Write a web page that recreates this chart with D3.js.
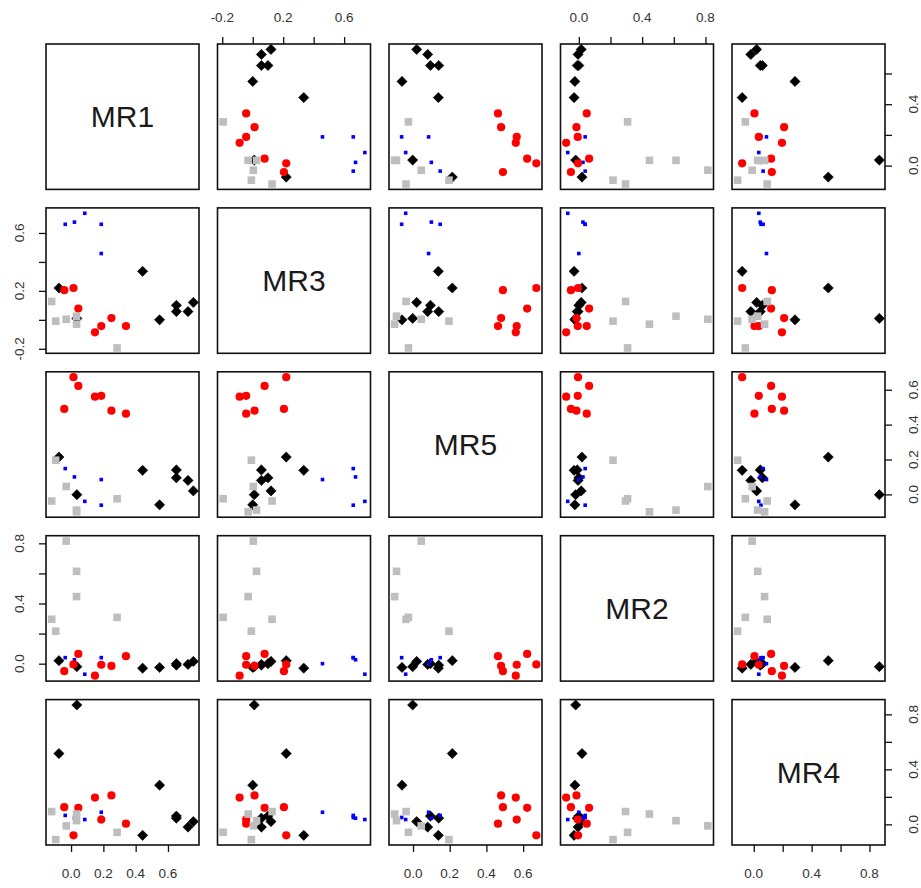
<!DOCTYPE html>
<html><head><meta charset="utf-8">
<script src="https://cdn.jsdelivr.net/npm/d3@7"></script>
<style>body{margin:0;background:#fff} svg{display:block}</style>
</head><body><svg id="c" width="921" height="888"></svg>
<script>
// ---- data ----
const vars = ["MR1", "MR3", "MR5", "MR2", "MR4"];
const group = ["k","k","k","k","k","k","k","k","b","b","b","b","b","r","r","r","r","r","r","r","g","g","g","g","g","g"];
const MR1 = [0.757,0.724,0.652,0.652,0.548,0.443,0.036,-0.075, 0.187,0.187,0.085,0.021,-0.036, 0.34,0.25,0.187,0.148,0.045,0.015,-0.042, 0.285,0.034,0.034,-0.03,-0.095,-0.12];
const MR3 = [0.12,0.057,0.057,0.10,0.0,0.335,0.01,0.22, 0.458,0.66,0.736,0.675,0.66, -0.043,0.012,-0.043,-0.086,0.078,0.22,0.205, -0.194,-0.03,0.025,0.004,-0.009,0.127];
const MR5 = [0.02,0.08,0.14,0.095,-0.06,0.138,-0.002,0.214, 0.085,-0.062,-0.04,0.10,0.148, 0.463,0.48,0.565,0.56,0.622,0.672,0.49, -0.025,-0.10,-0.09,0.045,0.196,-0.038];
const MR2 = [0.015,-0.005,-0.01,0.0,-0.025,-0.03,-0.02,0.02, 0.0,0.04,-0.07,0.026,0.04, 0.05,-0.015,-0.007,-0.08,0.065,-0.005,-0.05, 0.308,0.446,0.614,0.815,0.216,0.295];
const MR4 = [0.02,-0.02,0.045,0.06,0.285,-0.08,0.868,0.515, 0.088,0.05,0.035,0.045,0.065, 0.005,0.21,0.035,0.195,0.12,-0.08,0.125, -0.058,0.075,0.027,-0.011,-0.111,0.093];
const ticksMR1 = [0.0, 0.2, 0.4, 0.6];
const ticksMR3 = [-0.2, 0.0, 0.2, 0.4, 0.6];
const ticksMR5 = [0.0, 0.2, 0.4, 0.6];
const ticksMR2 = [0.0, 0.2, 0.4, 0.6, 0.8];
const ticksMR4 = [0.0, 0.2, 0.4, 0.6, 0.8];
// labels shown on the outer axes (R drops overlapping ones)
const labelsColMR1 = [0.0, 0.2, 0.4, 0.6];
const labelsColMR3 = [-0.2, 0.2, 0.6];
const labelsColMR5 = [0.0, 0.2, 0.4, 0.6];
const labelsColMR2 = [0.0, 0.4, 0.8];
const labelsColMR4 = [0.0, 0.4, 0.8];
const labelsRowMR1 = [0.0, 0.4];
const labelsRowMR3 = [-0.2, 0.2, 0.6];
const labelsRowMR5 = [0.0, 0.2, 0.4, 0.6];
const labelsRowMR2 = [0.0, 0.4, 0.8];
const labelsRowMR4 = [0.0, 0.4, 0.8];

const values = [MR1, MR3, MR5, MR2, MR4];
const ticks = [ticksMR1, ticksMR3, ticksMR5, ticksMR2, ticksMR4];
const colLabels = [labelsColMR1, labelsColMR3, labelsColMR5, labelsColMR2, labelsColMR4];
const rowLabels = [labelsRowMR1, labelsRowMR3, labelsRowMR5, labelsRowMR2, labelsRowMR4];

// ---- layout ----
const padL = 46, padT = 44, pw = 153, ph = 145.4, gap = 18.5;
const n = vars.length;
const fmt = v => (v < 0 ? "-" : "") + Math.abs(v).toFixed(1);

const doms = values.map(a => {
  const [lo, hi] = d3.extent(a); const p = (hi - lo) * 0.04; return [lo - p, hi + p];
});
const xs = doms.map(d => d3.scaleLinear().domain(d).range([0, pw]));
const ys = doms.map(d => d3.scaleLinear().domain(d).range([ph, 0]));

const svg = d3.select("#c");
svg.append("rect").attr("width", 921).attr("height", 888).attr("fill", "#fff");

const colorOf = {k: "#000000", r: "#ff0000", b: "#0000ff", g: "#bebebe"};
const items = d3.range(MR1.length);
const font = "Liberation Sans, Arial, sans-serif", fs = 13.5, tcol = "#333";

for (let i = 0; i < n; i++) {
  for (let j = 0; j < n; j++) {
    const g = svg.append("g").attr("transform", `translate(${padL + j * (pw + gap)},${padT + i * (ph + gap)})`);
    if (i === j) {
      g.append("text").attr("x", pw / 2).attr("y", ph / 2).attr("text-anchor", "middle")
        .attr("dominant-baseline", "central").attr("font-family", font)
        .attr("font-size", 30).attr("fill", "#1a1a1a").text(vars[i]);
    } else {
      const xv = values[j], yv = values[i], sx = xs[j], sy = ys[i];
      items.forEach(idx => {
        const cx = sx(xv[idx]), cy = sy(yv[idx]), grp = group[idx];
        if (grp === "k") {
          const s = 5.1;
          g.append("path").attr("d", `M${cx},${cy - s}L${cx + s},${cy}L${cx},${cy + s}L${cx - s},${cy}Z`)
            .attr("fill", colorOf.k).attr("stroke", colorOf.k).attr("stroke-width", 0.6).attr("stroke-linejoin", "round");
        } else if (grp === "r") {
          g.append("circle").attr("cx", cx).attr("cy", cy).attr("r", 4.1).attr("fill", colorOf.r);
        } else if (grp === "b") {
          g.append("rect").attr("x", cx - 1.8).attr("y", cy - 1.8).attr("width", 3.6).attr("height", 3.6).attr("fill", colorOf.b);
        } else {
          g.append("rect").attr("x", cx - 3.8).attr("y", cy - 3.8).attr("width", 7.6).attr("height", 7.6).attr("fill", colorOf.g);
        }
      });
    }
    g.append("rect").attr("width", pw).attr("height", ph).attr("fill", "none")
      .attr("stroke", "#111").attr("stroke-width", 1.6);

    // x axes
    if (j % 2 === 0 && i === n - 1) {
      const ax = g.append("g").attr("transform", `translate(0,${ph})`)
        .call(d3.axisBottom(xs[j]).tickValues(ticks[j]).tickSize(7).tickFormat(""));
      ax.select(".domain").remove(); ax.selectAll("line").attr("stroke", "#111").attr("stroke-width", 1.3);
      colLabels[j].forEach(v => g.append("text").attr("x", xs[j](v)).attr("y", ph + 29).attr("text-anchor", "middle")
        .attr("dominant-baseline", "central").attr("font-family", font).attr("font-size", fs).attr("fill", tcol).text(fmt(v)));
    }
    if (j % 2 === 1 && i === 0) {
      const ax = g.append("g").call(d3.axisTop(xs[j]).tickValues(ticks[j]).tickSize(7).tickFormat(""));
      ax.select(".domain").remove(); ax.selectAll("line").attr("stroke", "#111").attr("stroke-width", 1.3);
      colLabels[j].forEach(v => g.append("text").attr("x", xs[j](v)).attr("y", -26.5).attr("text-anchor", "middle")
        .attr("dominant-baseline", "central").attr("font-family", font).attr("font-size", fs).attr("fill", tcol).text(fmt(v)));
    }
    // y axes
    if (i % 2 === 0 && j === n - 1) {
      const ax = g.append("g").attr("transform", `translate(${pw},0)`)
        .call(d3.axisRight(ys[i]).tickValues(ticks[i]).tickSize(7).tickFormat(""));
      ax.select(".domain").remove(); ax.selectAll("line").attr("stroke", "#111").attr("stroke-width", 1.3);
      rowLabels[i].forEach(v => g.append("text").attr("transform", `translate(${pw + 28.5},${ys[i](v)}) rotate(-90)`)
        .attr("text-anchor", "middle").attr("dominant-baseline", "central").attr("font-family", font)
        .attr("font-size", fs).attr("fill", tcol).text(fmt(v)));
    }
    if (i % 2 === 1 && j === 0) {
      const ax = g.append("g").call(d3.axisLeft(ys[i]).tickValues(ticks[i]).tickSize(7).tickFormat(""));
      ax.select(".domain").remove(); ax.selectAll("line").attr("stroke", "#111").attr("stroke-width", 1.3);
      rowLabels[i].forEach(v => g.append("text").attr("transform", `translate(-27,${ys[i](v)}) rotate(-90)`)
        .attr("text-anchor", "middle").attr("dominant-baseline", "central").attr("font-family", font)
        .attr("font-size", fs).attr("fill", tcol).text(fmt(v)));
    }
  }
}
</script></body></html>
